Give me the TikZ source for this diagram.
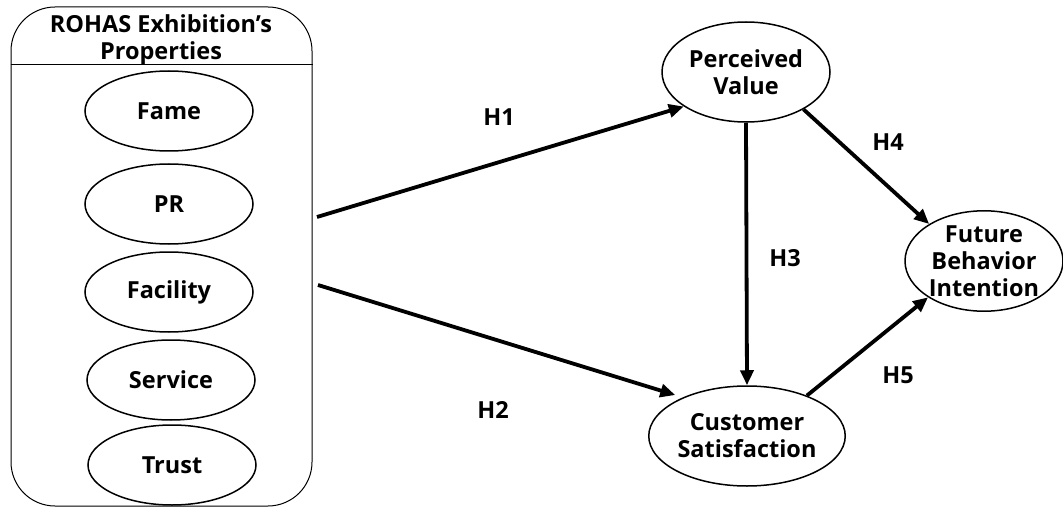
\documentclass[tikz,border=0pt]{standalone}
\usepackage{fontspec}
\setmainfont{Open Sans}
\usetikzlibrary{shapes.geometric,arrows.meta,calc}
\begin{document}
\begin{tikzpicture}[x=1pt,y=-1pt,
  lbl/.style={font=\bfseries\fontsize{23.5}{27}\selectfont, align=center},
  oval/.style={draw, line width=1.5pt, ellipse, inner sep=0pt, lbl},
  item/.style={oval, minimum width=168pt, minimum height=80pt},
  big/.style={oval, minimum width=168pt, minimum height=100pt},
  hyp/.style={line width=3.8pt, -{Triangle[length=15pt,width=13pt]}},
  hlab/.style={lbl}
]
\useasboundingbox (0,0) rectangle (1063,508);
% outer group box
\node (props) [draw, line width=1pt, rounded corners=44pt, minimum width=301pt, minimum height=499pt, inner sep=0pt] at (161.5,256.5) {};
\draw[line width=1pt] ($(props.north west)+(0,58)$) -- ($(props.north east)+(0,58)$);
\node (title) [lbl] at (161,40) {ROHAS Exhibition’s\\Properties};
% items
\node (fame) [item] at (169,111) {Fame};
\node (pr) [item] at (169,204) {PR};
\node (fac) [item] at (169,292) {Facility};
\node (serv) [item] at (171,380) {Service};
\node (trust) [item] at (172,465) {Trust};
% constructs
\node (pv) [big] at (746,72) {Perceived\\Value};
\node (cs) [big] at (747,436) {Customer\\Satisfaction};
\node (fbi) [oval, minimum width=158pt, minimum height=98pt] at (984,261) {Future\\Behavior\\Intention};
% arrow starts
\coordinate (h1s) at (317,217);
\coordinate (h2s) at (318,285);
% connectors
\draw[hyp] (h1s) -- (pv.209);
\draw[hyp] (h2s) -- ([shift={(-6,-3)}]cs.150);
\draw[hyp] (pv.south) -- (cs.north);
\draw[hyp] (pv.-33) -- (fbi.146);
\draw[hyp] (cs.34) -- (fbi.213);
% labels
\node (l1) [hlab] at (499,117) {H1};
\node (l2) [hlab] at (493,410) {H2};
\node (l3) [hlab] at (785,258) {H3};
\node (l4) [hlab] at (888,142) {H4};
\node (l5) [hlab] at (898,375) {H5};
\end{tikzpicture}
\end{document}
